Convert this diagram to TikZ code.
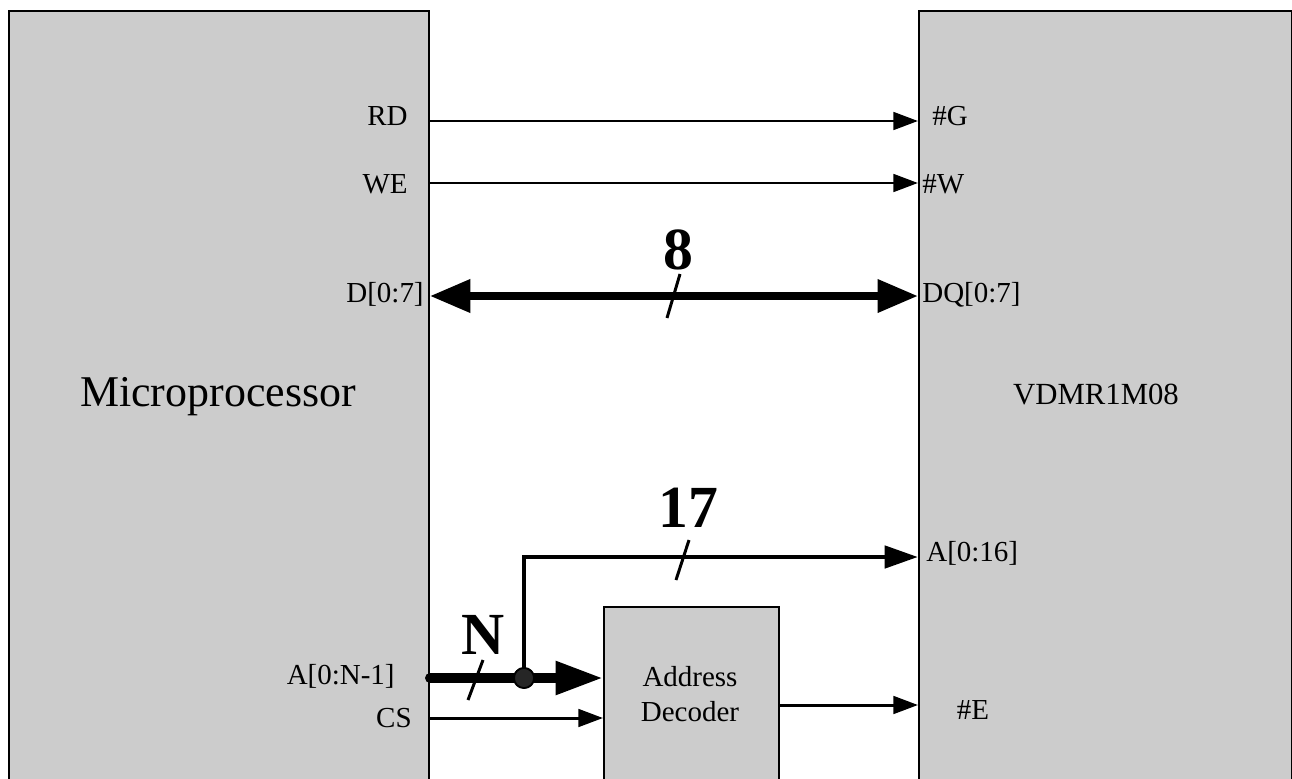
\documentclass[tikz,border=0pt]{standalone}
\usepackage{fontspec}
\setmainfont{Liberation Serif}
\usetikzlibrary{arrows.meta}
\begin{document}
\begin{tikzpicture}[x=0.02cm, y=-0.02cm,
    font=\fontsize{16.5}{20}\selectfont,
    chip/.style={rectangle, draw, line width=1.1pt, fill=black!20, inner sep=0pt, anchor=north west},
    pin/.style={inner sep=0pt},
    wire/.style={line width=1.7pt, -{Triangle[length=14pt,width=10pt]}},
    slash/.style={line width=1.7pt},
    joint/.style={circle, draw, line width=1pt, fill=black!85, minimum size=0.4cm, inner sep=0pt},
    width/.style={font=\fontsize{34}{36}\selectfont\bfseries}]
    \path[use as bounding box, clip] (0,0) rectangle (1292,778);

    % Microprocessor
    \node[chip, minimum width=8.4cm, minimum height=15.8cm] (mpu) at (8,10) {};
    \node[font=\fontsize{25}{28}\selectfont] (mpuname) at (218,397) {Microprocessor};

    % Memory
    \node[chip, minimum width=7.46cm, minimum height=15.8cm] (mem) at (918,10) {};
    \node[font=\fontsize{17.5}{20}\selectfont] (memname) at (1096,395) {VDMR1M08};

    % Address decoder
    \node[chip, minimum width=3.5cm, minimum height=3.9cm] (dec) at (603,606) {};
    \node[align=center] (decname) at (690,694) {Address\\Decoder};

    % Pin names
    \node[pin, anchor=east] (rd) at (408,116) {RD};
    \node[pin, anchor=east] (we) at (408,184) {WE};
    \node[pin, anchor=east] (d) at (424,294) {D[0:7]};
    \node[pin, anchor=east] (a) at (395,676) {A[0:N-1]};
    \node[pin, anchor=east] (cs) at (412,718) {CS};
    \node[pin, anchor=west] (g) at (932,116) {\#G};
    \node[pin, anchor=west] (w) at (922,184) {\#W};
    \node[pin, anchor=west] (dq) at (922,295) {DQ[0:7]};
    \node[pin, anchor=west] (amem) at (926,553) {A[0:16]};
    \node[pin] (e) at (973,710) {\#E};

    % Control lines
    \draw[wire] (mpu.east |- 0,121) -- (mem.west |- 0,121);
    \draw[wire] (mpu.east |- 0,183) -- (mem.west |- 0,183);
    \draw[wire] (mpu.east |- 0,718) -- (dec.west |- 0,718);
    \draw[wire] (dec.east |- 0,705) -- (mem.west |- 0,705);

    % Data bus
    \draw[line width=4.5pt, {Triangle[length=23pt,width=18pt]}-{Triangle[length=23pt,width=18pt]}]
        (mpu.east |- 0,296) -- (mem.west |- 0,296);
    \draw[slash] (667,318) -- (680,274);
    \node[width] (n8) at (678,250) {8};

    % Address bus
    \node[joint] (split) at (524,678) {};
    \draw[line width=5.5pt, line cap=round, -{Triangle[length=27pt,width=18pt]}]
        (mpu.east |- 0,678) -- (dec.west |- 0,678);
    \draw[line width=2.8pt, -{Triangle[length=19pt,width=12.5pt]}]
        (split.center) |- (mem.west |- 0,557);
    \node[joint] at (split) {};
    \draw[slash] (468,700) -- (483,660);
    \node[width] (nN) at (483,635) {N};
    \draw[slash] (676,580) -- (689,540);
    \node[width] (n17) at (688,508) {17};
\end{tikzpicture}
\end{document}
